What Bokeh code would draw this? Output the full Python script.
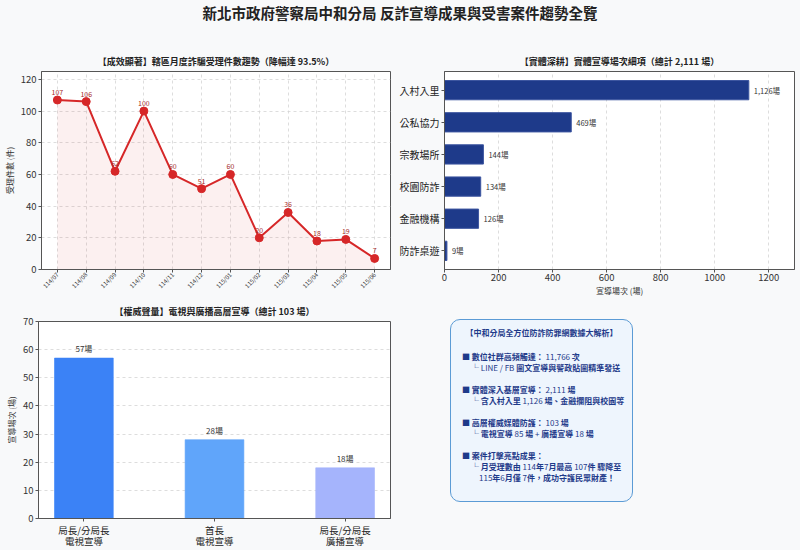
from bokeh.plotting import figure
from bokeh.models import Range1d, FactorRange, Div, ColumnDataSource, FixedTicker, LinearAxis
from bokeh.layouts import column, row
from bokeh.embed import file_html
from bokeh.resources import INLINE
from bokeh.core.properties import value

FONT = "Noto Sans CJK TC"
BG = "#f8f9fa"

# ---------------- data ----------------
main_title = "新北市政府警察局中和分局 反詐宣導成果與受害案件趨勢全覽"

months = ["114/07", "114/08", "114/09", "114/10", "114/11", "114/12",
          "115/01", "115/02", "115/03", "115/04", "115/05", "115/06"]
cases = [107, 106, 62, 100, 60, 51, 60, 20, 36, 18, 19, 7]

venue_types = ["入村入里", "公私協力", "宗教場所", "校園防詐", "金融機構", "防詐桌遊"]
venue_counts = [1126, 469, 144, 134, 126, 9]

media_types = ["局長/分局長\n電視宣導", "首長\n電視宣導", "局長/分局長\n廣播宣導"]
media_counts = [57, 28, 18]
media_colors = ["#3b82f6", "#60a5fa", "#a5b4fc"]

line_ticks = [0, 20, 40, 60, 80, 100, 120]
venue_ticks = [0, 200, 400, 600, 800, 1000, 1200]
media_ticks = [0, 10, 20, 30, 40, 50, 60, 70]


def style(p):
    p.background_fill_color = "white"
    p.border_fill_color = BG
    p.outline_line_color = "#555555"
    p.outline_line_width = 1
    p.title.text_font = FONT
    p.title.text_font_size = "9px"
    p.title.text_font_style = "bold"
    p.title.text_color = "#222222"
    p.title.align = "center"
    p.title.standoff = 8
    for ax in list(p.xaxis) + list(p.yaxis):
        ax.axis_line_color = "#555555"
        ax.major_tick_line_color = "#555555"
        ax.minor_tick_line_color = None
        ax.major_tick_out = 3
        ax.major_tick_in = 0
        ax.major_label_standoff = 2
        ax.axis_label_standoff = 3
        ax.major_label_text_font = FONT
        ax.major_label_text_font_size = "9.5px"
        ax.major_label_text_color = "#333333"
        ax.axis_label_text_font = FONT
        ax.axis_label_text_font_size = "8px"
        ax.axis_label_text_font_style = "normal"
        ax.axis_label_text_color = "#333333"
    p.grid.grid_line_color = "#d4d4d4"
    p.grid.grid_line_dash = "3 3"
    p.grid.grid_line_width = 0.8


# ---------------- top-left: line chart ----------------
p1 = figure(width=396, height=264, output_backend="svg", toolbar_location=None,
            x_range=FactorRange(factors=months, range_padding=0.05, range_padding_units="absolute"),
            y_range=Range1d(0, 125),
            title="【成效顯著】轄區月度詐騙受理件數趨勢（降幅達 93.5%）",
            min_border_left=38, min_border_right=6, min_border_top=37, min_border_bottom=27)
p1.varea(x=months, y1=[0] * len(cases), y2=cases, fill_color="#d62728", fill_alpha=0.07)
p1.line(months, cases, line_color="#d62728", line_width=2)
p1.scatter(months, cases, size=8, fill_color="#d62728", line_color="#d62728")
p1.text(x=months, y=cases, text=[str(c) for c in cases], y_offset=-5,
        text_align="center", text_baseline="bottom", text_font=value(FONT),
        text_font_size="7px", text_color="#a52a2a")
style(p1)
p1.yaxis.ticker = FixedTicker(ticks=line_ticks)
p1.yaxis.axis_label = "受理件數 (件)"
p1.xaxis.major_label_orientation = 0.785
p1.xaxis.major_label_text_font_size = "6px"
p1.xaxis.major_label_standoff = 1

# ---------------- top-right: horizontal bars ----------------
p2 = figure(width=404, height=264, output_backend="svg", toolbar_location=None,
            y_range=FactorRange(factors=list(reversed(venue_types)), range_padding=0.08,
                                range_padding_units="absolute"),
            x_range=Range1d(0, 1295),
            title="【實體深耕】實體宣導場次細項（總計 2,111 場）",
            min_border_left=47, min_border_right=6, min_border_top=37, min_border_bottom=27)
p2.hbar(y=venue_types, left=0, right=venue_counts, height=0.6,
        fill_color="#1e3a8a", line_color="#3d56a0", line_width=1)
p2.text(x=venue_counts, y=venue_types, text=[f"{v:,}場" for v in venue_counts],
        x_offset=5, text_align="left", text_baseline="middle", text_font=value(FONT),
        text_font_size="7.5px", text_color="#333333")
style(p2)
p2.ygrid.visible = False
p2.xaxis.ticker = FixedTicker(ticks=venue_ticks)
p2.xaxis.axis_label = "宣導場次 (場)"
p2.xaxis.major_label_standoff = 1
p2.xaxis.axis_label_standoff = 1
p2.yaxis.major_label_text_font_size = "10px"
p2.yaxis.major_label_text_color = "#222222"

# ---------------- bottom-left: vertical bars ----------------
media_pos = list(range(len(media_types)))
src3 = ColumnDataSource(dict(x=media_pos, top=media_counts, color=media_colors,
                             label=[f"{v}場" for v in media_counts]))
p3 = figure(width=396, height=252, output_backend="svg", toolbar_location=None,
            x_range=Range1d(-0.3475, len(media_types) - 1 + 0.3475),
            y_range=Range1d(0, 70),
            title="【權威聲量】電視與廣播高層宣導（總計 103 場）",
            min_border_left=38, min_border_right=6, min_border_top=21, min_border_bottom=31)
p3.vbar(x="x", top="top", width=0.45, fill_color="color", line_color="color",
        line_alpha=0.6, source=src3)
p3.text(x="x", y="top", text="label", y_offset=-4, text_align="center",
        text_baseline="bottom", text_font=value(FONT), text_font_size="8px",
        text_color="#333333", source=src3)
style(p3)
p3.xgrid.visible = False
p3.yaxis.ticker = FixedTicker(ticks=media_ticks)
p3.yaxis.axis_label = "宣導場次 (場)"
# two-line category labels: first line on the main axis, second line on a bare axis below
p3.xaxis.ticker = FixedTicker(ticks=media_pos)
p3.xaxis.major_label_overrides = {i: m.split("\n")[0] for i, m in zip(media_pos, media_types)}
p3.xaxis.major_label_text_font_size = "9.5px"
p3.xaxis.major_label_text_color = "#222222"
p3.xaxis.major_label_standoff = 1
ax2 = LinearAxis(ticker=FixedTicker(ticks=media_pos),
                 major_label_overrides={i: m.split("\n")[1] for i, m in zip(media_pos, media_types)},
                 axis_line_color=None, major_tick_line_color=None, minor_tick_line_color=None,
                 major_tick_out=0, major_tick_in=0, major_label_standoff=-6,
                 major_label_text_font=FONT, major_label_text_font_size="9.5px",
                 major_label_text_color="#222222")
p3.add_layout(ax2, "below")

# ---------------- info box ----------------
box_html = f"""<div style="margin-left:54px;margin-top:21px;width:183px;height:183px;box-sizing:border-box;
 background:#eef5fd;border:1px solid #5b9bd5;border-radius:10px;padding:7px 4px 0 11px;
 font-family:'{FONT}',sans-serif;font-size:8px;line-height:11px;color:#1e3a8a;white-space:nowrap;">
<div style="text-align:center;font-weight:bold;margin-left:-7px;">【中和分局全方位防詐防罪網數據大解析】</div>
<div style="height:13px"></div>
<div><b>■ 數位社群高頻觸達：</b> 11,766 <b>次</b></div>
<div style="padding-left:9px">└ LINE / FB <b>圖文宣導與警政貼圖精準發送</b></div>
<div style="height:11px"></div>
<div><b>■ 實體深入基層宣導：</b> 2,111 <b>場</b></div>
<div style="padding-left:9px">└ <b>含入村入里</b> 1,126 <b>場、金融攔阻與校園等</b></div>
<div style="height:11px"></div>
<div><b>■ 高層權威媒體防護：</b> 103 <b>場</b></div>
<div style="padding-left:9px">└ <b>電視宣導</b> 85 <b>場</b> + <b>廣播宣導</b> 18 <b>場</b></div>
<div style="height:11px"></div>
<div><b>■ 案件打擊亮點成果：</b></div>
<div style="padding-left:9px">└ <b>月受理數由</b> 114<b>年</b>7<b>月最高</b> 107<b>件 驟降至</b></div>
<div style="padding-left:17px">115<b>年</b>6<b>月僅</b> 7<b>件，成功守護民眾財產！</b></div>
</div>"""
box = Div(text=box_html, width=404, height=252, margin=0, styles={"background": BG})

title_div = Div(text=main_title, width=800, height=34, margin=0,
                styles={"background": BG, "text-align": "center", "font-family": f"'{FONT}',sans-serif",
                        "font-size": "14.5px", "font-weight": "bold", "color": "#222222",
                        "line-height": "26px"})

layout = column(title_div, row(p1, p2), row(p3, box), styles={"background": BG})

open("out.html", "w").write(file_html(layout, INLINE))
